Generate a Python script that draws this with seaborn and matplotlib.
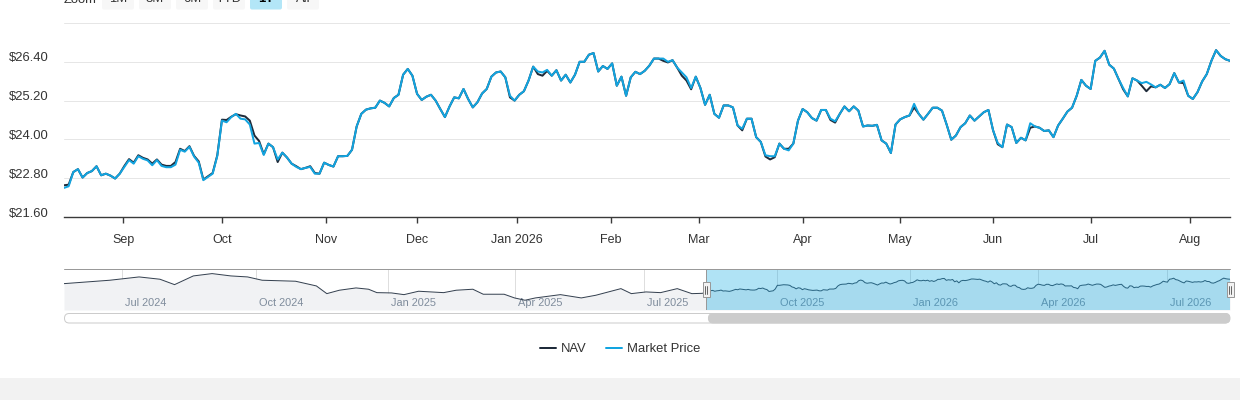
import numpy as np
import pandas as pd
import matplotlib
matplotlib.use("Agg")
import matplotlib.pyplot as plt
import matplotlib.transforms as mtransforms
from matplotlib.patches import FancyBboxPatch, Rectangle
import seaborn as sns

# ---------------- data ----------------
history_start = "2024-05-20"
range_start = "2025-08-13"
range_end = "2026-08-13"
market_holidays = [
    "2024-05-27", "2024-06-19", "2024-07-04", "2024-09-02", "2024-11-28", "2024-12-25",
    "2025-01-01", "2025-01-09", "2025-01-20", "2025-02-17", "2025-04-18", "2025-05-26",
    "2025-06-19", "2025-07-04", "2025-09-01", "2025-11-27", "2025-12-25",
    "2026-01-01", "2026-01-19", "2026-02-16", "2026-04-03", "2026-05-25", "2026-06-19",
    "2026-07-03",
]

market_price = [
    22.50, 22.55, 22.99, 23.08, 22.82, 22.96, 23.02, 23.17, 22.89, 22.94,
    22.88, 22.79, 22.94, 23.15, 23.36, 23.25, 23.48, 23.40, 23.35, 23.20,
    23.36, 23.18, 23.14, 23.14, 23.22, 23.68, 23.62, 23.77, 23.47, 23.28,
    22.74, 22.84, 22.94, 23.49, 24.58, 24.53, 24.69, 24.79, 24.64, 24.62,
    24.46, 23.87, 23.89, 23.52, 23.87, 23.76, 23.38, 23.59, 23.44, 23.25,
    23.15, 23.08, 23.12, 23.15, 22.94, 22.94, 23.28, 23.21, 23.16, 23.48,
    23.48, 23.49, 23.68, 24.40, 24.79, 24.92, 24.96, 24.98, 25.20, 25.13,
    25.02, 25.28, 25.38, 26.00, 26.18, 25.97, 25.41, 25.22, 25.32, 25.38,
    25.20, 24.94, 24.69, 25.02, 25.30, 25.27, 25.56, 25.25, 24.99, 25.15,
    25.42, 25.56, 25.94, 26.07, 26.10, 25.92, 25.35, 25.20, 25.38, 25.49,
    25.82, 26.25, 26.10, 26.07, 26.15, 25.97, 26.14, 25.82, 26.00, 25.76,
    26.00, 26.40, 26.40, 26.62, 26.67, 26.10, 26.27, 26.18, 26.35, 25.66,
    25.94, 25.35, 25.92, 26.09, 26.02, 26.12, 26.28, 26.50, 26.50, 26.50,
    26.40, 26.45, 26.22, 26.07, 25.92, 25.59, 25.94, 25.59, 25.07, 25.38,
    24.79, 24.67, 25.05, 25.05, 24.99, 24.43, 24.33, 24.64, 24.64, 24.07,
    23.92, 23.51, 23.48, 23.48, 23.87, 23.71, 23.66, 23.87, 24.58, 24.94,
    24.84, 24.66, 24.58, 24.91, 24.91, 24.64, 24.56, 24.79, 25.02, 24.87,
    25.02, 24.89, 24.40, 24.43, 24.42, 24.45, 23.97, 23.87, 23.58, 24.46,
    24.62, 24.69, 24.74, 25.10, 24.79, 24.61, 24.79, 24.98, 24.98, 24.89,
    24.46, 23.99, 24.12, 24.38, 24.50, 24.74, 24.58, 24.71, 24.84, 24.91,
    24.28, 23.89, 23.76, 24.46, 24.38, 23.89, 24.05, 23.97, 24.50, 24.40,
    24.36, 24.26, 24.28, 24.07, 24.43, 24.64, 24.86, 24.98, 25.35, 25.84,
    25.66, 25.56, 26.43, 26.53, 26.74, 26.31, 26.19, 25.87, 25.59, 25.33,
    25.89, 25.82, 25.74, 25.78, 25.70, 25.61, 25.69, 25.59, 25.71, 26.05,
    25.76, 25.82, 25.35, 25.25, 25.46, 25.79, 26.02, 26.43, 26.76, 26.58,
    26.48, 26.43,
]

nav = [
    22.58, 22.60, 22.99, 23.08, 22.82, 22.96, 23.02, 23.17, 22.89, 22.94,
    22.88, 22.79, 22.94, 23.18, 23.39, 23.28, 23.51, 23.43, 23.38, 23.25,
    23.38, 23.22, 23.18, 23.18, 23.30, 23.71, 23.64, 23.79, 23.49, 23.32,
    22.76, 22.86, 22.96, 23.51, 24.61, 24.60, 24.70, 24.78, 24.74, 24.71,
    24.58, 24.12, 23.95, 23.54, 23.87, 23.76, 23.30, 23.59, 23.44, 23.25,
    23.17, 23.08, 23.12, 23.17, 22.96, 22.94, 23.28, 23.21, 23.16, 23.48,
    23.48, 23.49, 23.68, 24.40, 24.79, 24.92, 24.96, 24.98, 25.20, 25.13,
    25.02, 25.28, 25.38, 26.00, 26.18, 25.97, 25.41, 25.22, 25.32, 25.38,
    25.20, 24.94, 24.69, 25.02, 25.30, 25.27, 25.56, 25.25, 24.99, 25.15,
    25.42, 25.56, 25.94, 26.07, 26.10, 25.92, 25.30, 25.20, 25.38, 25.49,
    25.82, 26.25, 26.02, 25.97, 26.12, 25.97, 26.14, 25.82, 26.00, 25.76,
    26.00, 26.40, 26.40, 26.62, 26.67, 26.10, 26.27, 26.18, 26.35, 25.66,
    25.94, 25.35, 25.92, 26.09, 26.02, 26.12, 26.28, 26.50, 26.50, 26.43,
    26.38, 26.45, 26.22, 25.97, 25.82, 25.55, 25.94, 25.59, 25.07, 25.38,
    24.79, 24.67, 25.05, 25.05, 24.99, 24.43, 24.28, 24.64, 24.64, 24.07,
    23.92, 23.47, 23.38, 23.45, 23.87, 23.71, 23.71, 23.87, 24.58, 24.94,
    24.84, 24.66, 24.58, 24.91, 24.91, 24.60, 24.52, 24.79, 25.02, 24.87,
    25.02, 24.89, 24.40, 24.43, 24.42, 24.45, 23.97, 23.87, 23.58, 24.46,
    24.62, 24.69, 24.74, 24.99, 24.79, 24.61, 24.79, 24.98, 24.98, 24.89,
    24.46, 23.99, 24.12, 24.38, 24.50, 24.74, 24.58, 24.71, 24.84, 24.91,
    24.28, 23.85, 23.76, 24.46, 24.38, 23.89, 24.05, 23.97, 24.36, 24.40,
    24.36, 24.26, 24.28, 24.07, 24.43, 24.64, 24.86, 24.98, 25.35, 25.84,
    25.66, 25.56, 26.43, 26.53, 26.74, 26.31, 26.19, 25.87, 25.55, 25.33,
    25.89, 25.82, 25.66, 25.49, 25.64, 25.61, 25.69, 25.59, 25.71, 26.05,
    25.76, 25.74, 25.35, 25.25, 25.46, 25.79, 26.02, 26.43, 26.76, 26.58,
    26.48, 26.43,
]

# earlier NAV history shown only in the navigator
hist_dates = [
    "2024-05-20", "2024-06-21", "2024-07-12", "2024-07-26", "2024-08-06", "2024-08-19",
    "2024-08-30", "2024-09-13", "2024-09-25", "2024-10-04", "2024-10-28", "2024-11-11",
    "2024-11-18", "2024-11-26", "2024-12-09", "2024-12-17", "2024-12-23", "2025-01-03",
    "2025-01-14", "2025-01-24", "2025-02-11", "2025-02-20", "2025-03-04", "2025-03-11",
    "2025-03-25", "2025-04-01", "2025-04-08", "2025-04-15", "2025-05-02", "2025-05-16",
    "2025-05-28", "2025-06-13", "2025-06-23", "2025-07-02", "2025-07-14", "2025-07-24",
    "2025-08-04", "2025-08-11",
]
hist_nav = [
    25.11, 26.13, 27.12, 26.43, 24.81, 27.42,
    28.12, 27.42, 27.12, 26.13, 25.83, 24.42,
    22.11, 23.13, 23.82, 23.43, 22.41, 22.32,
    21.81, 22.83, 22.41, 23.13, 23.43, 21.93,
    21.93, 20.82, 20.13, 20.82, 21.81, 20.82,
    21.63, 23.61, 22.11, 22.62, 22.41, 23.61,
    22.11, 22.20,
]

month_starts = ["2025-09-01", "2025-10-01", "2025-11-01", "2025-12-01", "2026-01-01", "2026-02-01",
                "2026-03-01", "2026-04-01", "2026-05-01", "2026-06-01", "2026-07-01", "2026-08-01"]
month_labels = ["Sep", "Oct", "Nov", "Dec", "Jan 2026", "Feb", "Mar", "Apr", "May", "Jun", "Jul", "Aug"]
nav_axis_dates = ["2024-07-01", "2024-10-01", "2025-01-01", "2025-04-01", "2025-07-01",
                  "2025-10-01", "2026-01-01", "2026-04-01", "2026-07-01"]
nav_axis_labels = ["Jul 2024", "Oct 2024", "Jan 2025", "Apr 2025", "Jul 2025",
                   "Oct 2025", "Jan 2026", "Apr 2026", "Jul 2026"]
y_ticks = [21.6, 22.8, 24.0, 25.2, 26.4, 27.6]
y_labels = ["$21.60", "$22.80", "$24.00", "$25.20", "$26.40", ""]
zoom_buttons = ["1M", "3M", "6M", "YTD", "1Y", "All"]
selected_button = "1Y"

NAV_COLOR = "#1f2b3a"
MP_COLOR = "#12a4e0"

# ---------------- style ----------------
sns.set_style("white")
plt.rcParams['font.family'] = ['Liberation Sans', 'DejaVu Sans']
PX = 0.72  # points per pixel at 100 dpi

W, H = 1240, 400
fig = plt.figure(figsize=(W / 100, H / 100), dpi=100)

# trading calendar (ordinal axis)
cal = pd.bdate_range(history_start, range_end, freq='C', holidays=market_holidays)
cal_ts = cal.asi8.astype(float)
main_dates = cal[cal >= pd.Timestamp(range_start)][-len(nav):]
main_ts = main_dates.asi8.astype(float)
n_main = len(nav)

# ---------------- main chart ----------------
ax = fig.add_axes([64 / W, 1 - 217 / H, 1166 / W, 194 / H])
df = pd.DataFrame({"idx": np.arange(n_main), "NAV": nav, "Market Price": market_price})
long = df.melt("idx", var_name="series", value_name="price")
sns.lineplot(data=long, x="idx", y="price", hue="series", hue_order=["NAV", "Market Price"],
             palette={"NAV": NAV_COLOR, "Market Price": MP_COLOR}, lw=2 * PX, ax=ax,
             estimator=None, sort=False)
ax.set_xlim(0, n_main - 1)
ax.set_ylim(y_ticks[0], y_ticks[-1])
ax.set_xlabel("")
ax.set_ylabel("")
for s in ["left", "right", "top"]:
    ax.spines[s].set_visible(False)
ax.spines["bottom"].set_color("#3a3a3a")
ax.spines["bottom"].set_linewidth(1.0)
ax.grid(axis="y", color="#e6e6e6", lw=1 * PX)
ax.grid(axis="x", visible=False)
ax.set_yticks(y_ticks, y_labels)
month_pos = np.interp(pd.to_datetime(month_starts).asi8.astype(float), main_ts, np.arange(n_main))
ax.set_xticks(month_pos, month_labels)
ax.tick_params(axis="x", direction="out", length=6 * PX, width=1.0, color="#3a3a3a",
               labelsize=12.5 * PX, labelcolor="#333333", pad=8, bottom=True)
ax.tick_params(axis="y", length=0, labelsize=13 * PX, labelcolor="#333333", pad=15 * PX)
for lab in ax.get_yticklabels():
    lab.set_transform(lab.get_transform() + mtransforms.ScaledTranslation(0, 5 / 100, fig.dpi_scale_trans))
handles, labels = ax.get_legend_handles_labels()
ax.get_legend().remove()

# legend
fig.legend(handles, labels, loc="center", bbox_to_anchor=(620 / W, 1 - 349 / H), ncol=2,
           frameon=False, fontsize=13 * PX, handlelength=16 / 13, handletextpad=5 / 13,
           columnspacing=20 / 13, labelcolor="#333333")

# ---------------- navigator ----------------
nav_ax = fig.add_axes([64 / W, 1 - 310 / H, 1166 / W, 41 / H])
n_cal = len(cal)
hist_pos = np.interp(pd.to_datetime(hist_dates).asi8.astype(float), cal_ts, np.arange(n_cal))
main_pos = np.interp(main_ts, cal_ts, np.arange(n_cal))
nav_x = np.concatenate([hist_pos, main_pos])
nav_y = np.concatenate([hist_nav, nav])
nav_lo, nav_hi = 17.2, 29.5
nav_ax.fill_between(nav_x, nav_y, nav_lo, color="#f1f2f4", lw=0, zorder=1)
sns.lineplot(x=nav_x, y=nav_y, ax=nav_ax, color="#354150", lw=1 * PX, zorder=2,
             estimator=None, sort=False)
nav_ax.set_xlim(0, n_cal - 1)
nav_ax.set_ylim(nav_lo, nav_hi)
for s in nav_ax.spines.values():
    s.set_visible(False)
q_pos = np.interp(pd.to_datetime(nav_axis_dates).asi8.astype(float), cal_ts, np.arange(n_cal))
nav_ax.set_xticks(q_pos)
nav_ax.set_yticks([])
nav_ax.tick_params(axis="x", length=0, labelbottom=False)
nav_ax.grid(axis="x", color="#dedede", lw=1 * PX, zorder=0)
nav_ax.grid(axis="y", visible=False)
nav_ax.set_axisbelow(True)
lab_tr = mtransforms.offset_copy(nav_ax.get_xaxis_transform(), fig=fig, x=3 / 100, y=0, units="inches")
for p, t in zip(q_pos, nav_axis_labels):
    nav_ax.text(p, (310 - 302.5) / 41, t, transform=lab_tr, fontsize=11 * PX, color="#7f8c9c",
                ha="left", va="center", zorder=1.5)
sel_a, sel_b = main_pos[0], main_pos[-1]
nav_ax.axvspan(sel_a, sel_b, color="#10aae3", alpha=0.33, lw=0, zorder=4)
nav_ax.plot([0, 1], [1, 1], transform=nav_ax.transAxes, color="#999999", lw=1 * PX,
            clip_on=False, zorder=5)
nav_ax.axvline(sel_a, color="#999999", lw=1 * PX, zorder=5)
nav_ax.axvline(sel_b, color="#999999", lw=1 * PX, zorder=5)

# ---------------- overlay (buttons, handles, scrollbar) ----------------
ov = fig.add_axes([0, 0, 1, 1], zorder=10)
ov.set_xlim(0, W)
ov.set_ylim(H, 0)
ov.axis("off")
ov.patch.set_alpha(0)

px_a = nav_ax.transData.transform((sel_a, 0))[0]
px_b = nav_ax.transData.transform((sel_b, 0))[0]
px_l = nav_ax.transData.transform((0, 0))[0]
px_r = nav_ax.transData.transform((n_cal - 1, 0))[0]

# scrollbar
ov.add_patch(FancyBboxPatch((px_l + 0.5, 313.5), px_r - px_l - 1, 9.5,
                            boxstyle="round,pad=0,rounding_size=4.7", fc="white", ec="#cccccc", lw=1 * PX))
ov.add_patch(FancyBboxPatch((px_a + 2, 313.5), px_r - px_a - 2, 9.5,
                            boxstyle="round,pad=0,rounding_size=4.7", fc="#cccccc", ec="#cccccc", lw=1 * PX))

# navigator handles
for hx in (px_a, px_b):
    ov.add_patch(Rectangle((hx - 3.5, 282), 7, 15, fc="#f2f2f2", ec="#999999", lw=1 * PX, zorder=3))
    for dx in (-1, 1):
        ov.plot([hx + dx, hx + dx], [285.5, 293.5], color="#444444", lw=0.8 * PX, zorder=4)

# zoom buttons (top, partially cut off)
ov.text(64, 0, "Zoom", fontsize=13 * PX, color="#333333", ha="left", va="center")
for i, b in enumerate(zoom_buttons):
    bx = 102 + i * 37
    sel = b == selected_button
    ov.add_patch(FancyBboxPatch((bx, -14), 32, 23.5, boxstyle="round,pad=0,rounding_size=2",
                                fc="#b3e6f7" if sel else "#f7f7f7", ec="none"))
    ov.text(bx + 16, -0.5, b, fontsize=13 * PX, color="#000000" if sel else "#333333",
            ha="center", va="center", fontweight="bold" if sel else "normal")

# bottom page band
ov.add_patch(Rectangle((0, 378), W, 22, fc="#f2f2f2", ec="none"))

fig.savefig("out.png", dpi=100)
